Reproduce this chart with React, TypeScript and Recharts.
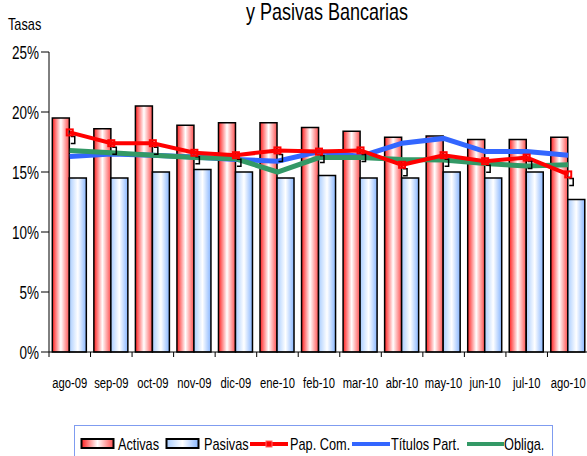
import React from 'react';
import { ComposedChart, Bar, Line, XAxis, YAxis } from 'recharts';

const months = ['ago-09', 'sep-09', 'oct-09', 'nov-09', 'dic-09', 'ene-10', 'feb-10', 'mar-10', 'abr-10', 'may-10', 'jun-10', 'jul-10', 'ago-10'];
const activas = [19.5, 18.6, 20.5, 18.9, 19.1, 19.1, 18.7, 18.4, 17.9, 18.0, 17.7, 17.7, 17.9];
const pasivas = [14.5, 14.5, 15.0, 15.2, 15.0, 14.5, 14.7, 14.5, 14.5, 15.0, 14.5, 15.0, 12.7];
const papCom = [18.3, 17.4, 17.4, 16.6, 16.4, 16.8, 16.7, 16.8, 15.6, 16.4, 15.9, 16.2, 14.8];
const titulos = [16.3, 16.5, 16.4, 16.25, 16.05, 15.9, 16.7, 16.3, 17.4, 17.8, 16.7, 16.7, 16.4];
const obliga = [16.8, 16.6, 16.4, 16.2, 16.1, 15.0, 16.2, 16.2, 16.05, 16.0, 15.7, 15.5, 15.6];
const yTicks = [0, 5, 10, 15, 20, 25];

const data = months.map((m, i) => ({
  mes: m,
  activas: activas[i],
  pasivas: pasivas[i],
  papCom: papCom[i],
  titulos: titulos[i],
  obliga: obliga[i],
}));

// no narrow font installed, so Liberation Sans squeezed horizontally
const FONT = "'Liberation Sans', Arial, sans-serif";
const SQ = 0.75;

const NText = ({ x, y, size, anchor = 'start', children }: any) => (
  <text transform={`translate(${x},${y}) scale(${SQ},1)`} textAnchor={anchor} fontSize={size} fontFamily={FONT} fill="#000">
    {children}
  </text>
);

const XTick = (props: any) => {
  const { x, y, payload, index, visibleTicksCount } = props;
  const half = payload.offset || 20.7;
  const axisY = y - 25;
  return (
    <g>
      <line x1={x - half} x2={x - half} y1={axisY} y2={axisY + 5} stroke="#000" />
      {index === visibleTicksCount - 1 && (
        <line x1={x + half} x2={x + half} y1={axisY} y2={axisY + 5} stroke="#000" />
      )}
      <NText x={x} y={y + 11} size={15} anchor="middle">{payload.value}</NText>
    </g>
  );
};

const YTick = (props: any) => {
  const { x, y, payload } = props;
  return <NText x={x} y={y + 6.5} size={18} anchor="end">{`${payload.value}%`}</NText>;
};

const PapDot = (props: any) => {
  const { cx, cy, index } = props;
  if (cx == null || cy == null) return <g key={index} />;
  return (
    <g key={index}>
      <path d={`M${cx + 1},${cy + 4} L${cx + 5},${cy + 4} L${cx + 5},${cy + 11} L${cx + 1},${cy + 11}`} fill="none" stroke="#000" strokeWidth={1.5} />
      <rect x={cx - 3} y={cy - 3} width={6} height={6} fill="none" stroke="#ff0000" strokeWidth={2} />
    </g>
  );
};

const Legend = () => {
  const cy = 23;
  return (
    <svg width={587} height={36} style={{ position: 'absolute', left: 0, top: 420 }}>
      <defs>
        <linearGradient id="lgAct" x1="0" y1="0" x2="1" y2="0">
          <stop offset="0%" stopColor="#ff2020" />
          <stop offset="50%" stopColor="#ffffff" />
          <stop offset="100%" stopColor="#ff5050" />
        </linearGradient>
        <linearGradient id="lgPas" x1="0" y1="0" x2="1" y2="0">
          <stop offset="0%" stopColor="#a9cdff" />
          <stop offset="50%" stopColor="#ffffff" />
          <stop offset="100%" stopColor="#88b6ff" />
        </linearGradient>
      </defs>
      <rect x={74.5} y={5.5} width={478} height={40} fill="#fff" stroke="#7f9cf0" />
      <rect x={81.5} y={cy - 4} width={32} height={9} fill="url(#lgAct)" stroke="#000" strokeWidth={2} />
      <NText x={118} y={cy + 7} size={17}>Activas</NText>
      <rect x={166.5} y={cy - 4} width={32} height={9} fill="url(#lgPas)" stroke="#000" strokeWidth={2} />
      <NText x={204} y={cy + 7} size={17}>Pasivas</NText>
      <line x1={250} x2={288} y1={cy + 1} y2={cy + 1} stroke="#ff0000" strokeWidth={4} />
      <rect x={266} y={cy - 2} width={6} height={6} fill="#ff0000" stroke="#ff6666" />
      <NText x={290} y={cy + 7} size={17}>Pap. Com.</NText>
      <line x1={352} x2={390} y1={cy + 1} y2={cy + 1} stroke="#3366ff" strokeWidth={4} />
      <NText x={391} y={cy + 7} size={17}>Títulos Part.</NText>
      <line x1={467} x2={504} y1={cy + 1} y2={cy + 1} stroke="#339966" strokeWidth={4} />
      <NText x={504} y={cy + 7} size={17}>Obliga.</NText>
    </svg>
  );
};

export default function App() {
  return (
    <div style={{ position: 'absolute', left: 0, top: 0, width: 587, height: 456, overflow: 'hidden', background: '#fff' }}>
      <ComposedChart width={590} height={456} data={data} margin={{ top: 52, right: 1, left: 0, bottom: 64 }} barCategoryGap="8%" barGap={0}>
        <defs>
          <linearGradient id="gradAct" x1="0" y1="0" x2="1" y2="0">
            <stop offset="0%" stopColor="#ff2020" />
            <stop offset="50%" stopColor="#ffffff" />
            <stop offset="100%" stopColor="#ff5050" />
          </linearGradient>
          <linearGradient id="gradPas" x1="0" y1="0" x2="1" y2="0">
            <stop offset="0%" stopColor="#a9cdff" />
            <stop offset="50%" stopColor="#ffffff" />
            <stop offset="100%" stopColor="#88b6ff" />
          </linearGradient>
        </defs>
        <NText x={327} y={20} size={24} anchor="middle">y Pasivas Bancarias</NText>
        <NText x={8} y={30} size={17}>Tasas</NText>
        <XAxis dataKey="mes" stroke="#000" tickLine={false} tickSize={5} tickMargin={20} height={40} interval={0} tick={<XTick />} />
        <YAxis width={49} domain={[0, 25]} ticks={yTicks} interval={0} stroke="#000" tickSize={8} tick={<YTick />} />
        <Bar dataKey="activas" fill="url(#gradAct)" stroke="#000" strokeWidth={1.5} isAnimationActive={false} />
        <Bar dataKey="pasivas" fill="url(#gradPas)" stroke="#000" strokeWidth={1.5} isAnimationActive={false} />
        <Line type="linear" dataKey="titulos" stroke="#3366ff" strokeWidth={5} dot={false} isAnimationActive={false} />
        <Line type="linear" dataKey="obliga" stroke="#339966" strokeWidth={5} dot={false} isAnimationActive={false} />
        <Line type="linear" dataKey="papCom" stroke="#ff0000" strokeWidth={4} dot={<PapDot />} isAnimationActive={false} />
      </ComposedChart>
      <Legend />
    </div>
  );
}
